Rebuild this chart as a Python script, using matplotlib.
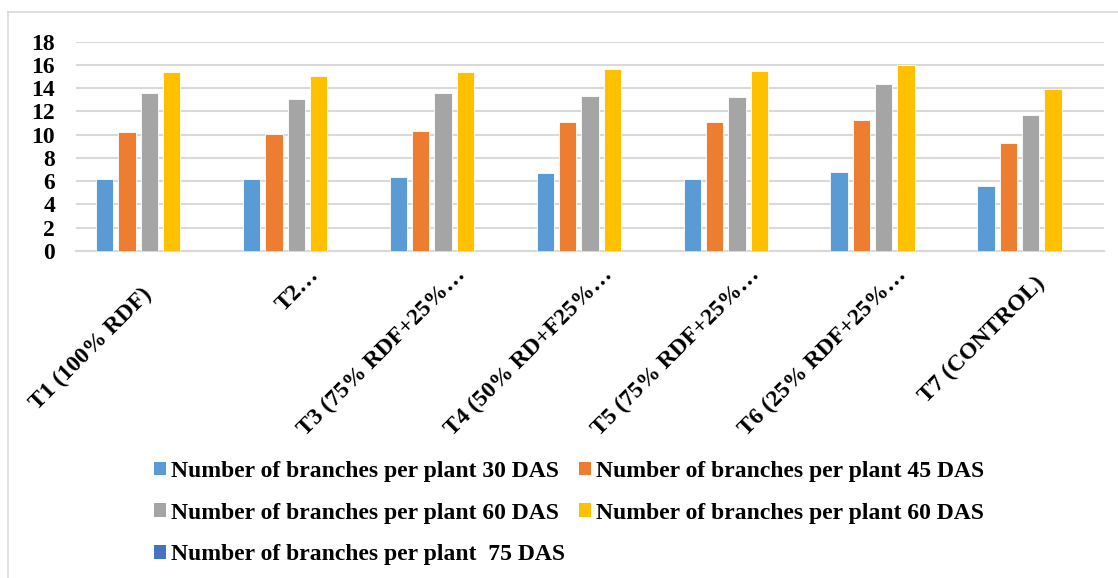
import numpy as np
import matplotlib
matplotlib.use("Agg")
import matplotlib.pyplot as plt
import matplotlib.transforms as mtransforms
from matplotlib.patches import Patch
from matplotlib.lines import Line2D

## data
categories = ["T1 (100% RDF)", "T2…", "T3 (75% RDF+25%…", "T4 (50% RD+F25%…",
              "T5 (75% RDF+25%…", "T6 (25% RDF+25%…", "T7 (CONTROL)"]
das30 = [6.15, 6.15, 6.35, 6.7, 6.15, 6.75, 5.55]
das45 = [10.2, 10.05, 10.35, 11.1, 11.05, 11.25, 9.25]
das60 = [13.55, 13.05, 13.55, 13.3, 13.25, 14.35, 11.65]
das60b = [15.35, 15.0, 15.4, 15.6, 15.45, 15.95, 13.95]
das75 = [0, 0, 0, 0, 0, 0, 0]

labels = ["Number of branches per plant 30 DAS",
          "Number of branches per plant 45 DAS",
          "Number of branches per plant 60 DAS",
          "Number of branches per plant 60 DAS",
          "Number of branches per plant  75 DAS"]
colors = ["#5B9BD5", "#ED7D31", "#A5A5A5", "#FFC000", "#4472C4"]
series = [das30, das45, das60, das60b, das75]

plt.rcParams['font.family'] = ['Liberation Serif', 'DejaVu Serif']
plt.rcParams['font.weight'] = 'bold'

fig = plt.figure(figsize=(11.18, 5.78), dpi=100)
ax = fig.add_axes([76/1118, 1-251/578, 1028/1118, 209.5/578])

x = np.arange(len(categories))
pitch = 0.152
for i, (vals, col) in enumerate(zip(series, colors)):
    ax.bar(x + (i-2)*pitch, vals, width=0.118, color=col,
           edgecolor='white', linewidth=0.6, zorder=3)

ax.set_xlim(-0.5, len(categories)-0.5)
ax.set_ylim(0, 18)
ax.set_yticks(np.arange(0, 19, 2))
ax.yaxis.grid(True, color='#D9D9D9', lw=1.5, zorder=0)
for s in ['top', 'right', 'left']:
    ax.spines[s].set_visible(False)
ax.spines['bottom'].set_color('#D9D9D9')
ax.spines['bottom'].set_linewidth(1.5)
ax.tick_params(axis='both', length=0)
ax.tick_params(axis='y', labelsize=17, pad=15)
ax.set_xticks(x)
ax.set_xticklabels(categories, rotation=45, ha='right', rotation_mode='anchor',
                   fontsize=17, fontweight='bold')
ax.tick_params(axis='x', pad=24)
## excel pushes the truncated labels further up along their slant
along = [0, 28, 28, 28, 28, 28, 16]
for lab, d in zip(ax.get_xticklabels(), along):
    dd = d / np.sqrt(2)
    shift = mtransforms.ScaledTranslation((dd - 8)/100, dd/100, fig.dpi_scale_trans)
    lab.set_transform(lab.get_transform() + shift)

## legend, reordered so it reads row by row like the original
handles = [Patch(facecolor=c) for c in colors]
order = [0, 2, 4, 1, 3]
fig.legend([handles[k] for k in order], [labels[k] for k in order],
           loc='upper left', bbox_to_anchor=(142/1118, 1-449/578),
           ncol=2, frameon=False, fontsize=17, borderpad=0,
           handlelength=0.5, handleheight=0.5, handletextpad=0.22,
           columnspacing=0.6, labelspacing=0.88)

## light chart border
fig.add_artist(Line2D([8/1118, 8/1118], [0, 1-12/578], color='#D9D9D9', lw=1.2))
fig.add_artist(Line2D([8/1118, 1], [1-12/578, 1-12/578], color='#D9D9D9', lw=1.2))

plt.savefig("out.png", dpi=100)
